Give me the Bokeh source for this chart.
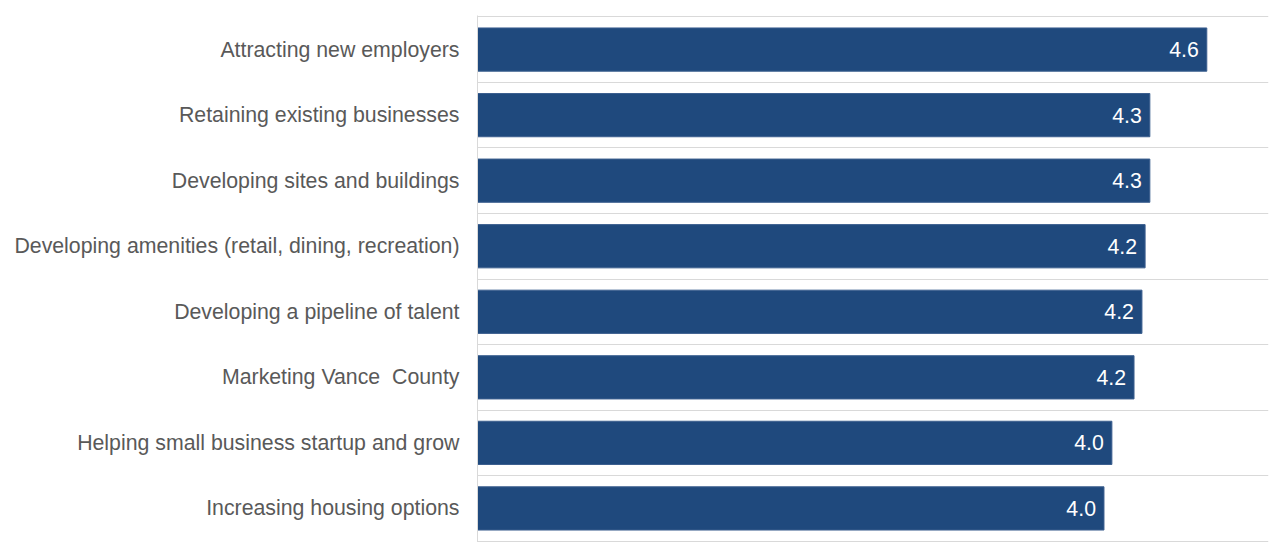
from bokeh.plotting import figure
from bokeh.models import ColumnDataSource, FixedTicker, Range1d
from bokeh.embed import file_html
from bokeh.resources import INLINE
from bokeh.core.properties import value

categories = [
    "Attracting new employers",
    "Retaining existing businesses",
    "Developing sites and buildings",
    "Developing amenities (retail, dining, recreation)",
    "Developing a pipeline of talent",
    "Marketing Vance\u00a0 County",
    "Helping small business startup and grow",
    "Increasing housing options",
]
scores = [4.61, 4.25, 4.25, 4.22, 4.20, 4.15, 4.01, 3.96]
score_labels = ["4.6", "4.3", "4.3", "4.2", "4.2", "4.2", "4.0", "4.0"]

n = len(categories)
ypos = [n - 0.5 - i for i in range(n)]

src = ColumnDataSource(dict(y=ypos, score=scores, lab=score_labels, cat=categories))

p = figure(width=1272, height=542, output_backend="svg", toolbar_location=None,
           x_range=Range1d(0, 5), y_range=Range1d(-0.02, n + 0.02),
           min_border_left=477, min_border_right=4, min_border_top=15, min_border_bottom=0)

p.hbar(y="y", left=0, right="score", height=0.66, source=src,
       fill_color="#1f497d", line_color="#3c5f8f", line_width=1)

p.text(x="score", y="y", text="lab", source=src, x_offset=-8,
       text_align="right", text_baseline="middle", text_color="white",
       text_font=value("Liberation Sans"), text_font_size="21.3px")

p.xaxis.visible = False
p.xgrid.visible = False

p.yaxis.ticker = FixedTicker(ticks=ypos)
p.yaxis.major_label_overrides = {y: c for y, c in zip(ypos, categories)}
p.yaxis.major_tick_line_color = None
p.yaxis.minor_tick_line_color = None
p.yaxis.major_tick_out = 0
p.yaxis.major_tick_in = 0
p.yaxis.major_label_standoff = 18
p.yaxis.axis_line_color = "#d9d9d9"
p.yaxis.major_label_text_font = "Liberation Sans"
p.yaxis.major_label_text_font_size = "21.3px"
p.yaxis.major_label_text_color = "#595959"

p.ygrid.ticker = FixedTicker(ticks=list(range(n + 1)))
p.ygrid.grid_line_color = "#d9d9d9"
p.ygrid.grid_line_width = 1

p.outline_line_color = None
p.background_fill_color = "white"
p.border_fill_color = "white"

open("out.html", "w").write(file_html(p, INLINE))
